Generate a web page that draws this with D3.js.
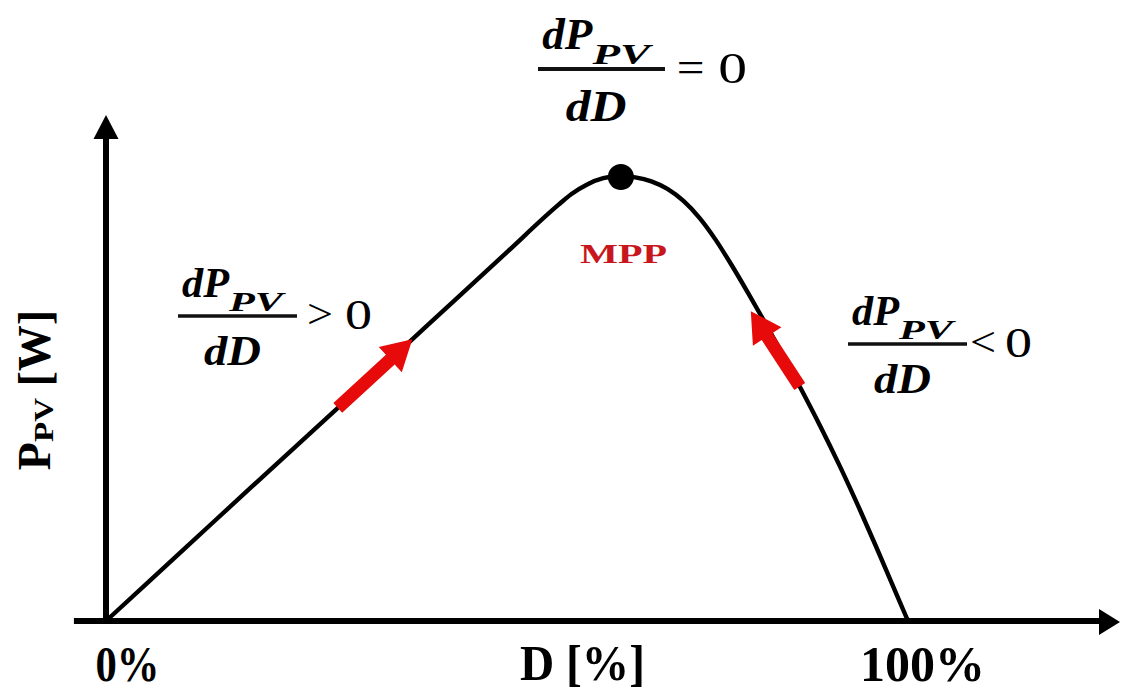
<!DOCTYPE html>
<html>
<head>
<meta charset="utf-8">
<script src="https://cdn.jsdelivr.net/npm/d3@7/dist/d3.min.js"></script>
<style>
  html, body { margin: 0; padding: 0; background: #fff; }
  svg { display: block; }
</style>
</head>
<body>
<svg id="chart" width="1122" height="692"></svg>
<script>
// Duty cycle D (%) and normalised PV power (% of maximum) along the P–D curve
const dutyPct = [0, 10, 20, 30, 40, 50, 56.4, 58, 60, 62, 64.2,
                 66, 68, 70, 72, 74, 76, 78, 80, 82, 84, 86.5, 89, 91.5, 94, 96, 98, 100];
const powerPct = [0, 16.6, 33.2, 49.7, 66.3, 82.9, 93.5, 95.9, 98.1, 99.5, 100,
                  99.7, 98.8, 97.1, 94.4, 90.6, 85.7, 80.0, 73.9, 67.6, 61.1, 52.7, 44.0, 34.8, 25.0, 16.8, 8.4, 0];

// Maximum power point
const mpp = { d: 64.2, p: 100, label: "MPP" };

// Direction-of-search arrows (tail -> tip) in data units
const searchArrows = [
  { from: [28.9, 47.9], to: [38.2, 63.3] },
  { from: [86.5, 52.7], to: [80.4, 69.6] }
];

// Axis ticks and titles
const xTicks = [0, 100];
const xTitle = "D [%]";
const yTitle = { main: "P", sub: "PV", unit: " [W]" };

const SERIF = '"Times New Roman", "Liberation Serif", "DejaVu Serif", serif';

const svg = d3.select("#chart");

const x = d3.scaleLinear().domain([0, 100]).range([106, 908]);
const y = d3.scaleLinear().domain([0, 100]).range([621, 176]);

// ---- axes with arrow heads ----
const axisG = svg.append("g");
const x0 = x(-4), x1 = 1120, yA = y(0);
axisG.append("line")
  .attr("x1", x0).attr("x2", x1 - 18).attr("y1", yA).attr("y2", yA)
  .attr("stroke", "#000").attr("stroke-width", 6);
axisG.append("path")
  .attr("d", `M${x1},${yA + 1} L${x1 - 21},${yA - 12} L${x1 - 21},${yA + 14} Z`)
  .attr("fill", "#000");

const yTop = 115, xA = x(0);
axisG.append("line")
  .attr("x1", xA).attr("x2", xA).attr("y1", yA + 2).attr("y2", yTop + 20)
  .attr("stroke", "#000").attr("stroke-width", 6);
axisG.append("path")
  .attr("d", `M${xA},${yTop} L${xA - 12.5},${yTop + 24} L${xA + 12.5},${yTop + 24} Z`)
  .attr("fill", "#000");

// tick labels via d3 axis
const xAxis = d3.axisBottom(x).tickValues(xTicks).tickFormat(d => d + "%").tickSize(0).tickPadding(0);
const xAxisG = svg.append("g").attr("transform", `translate(0,${yA})`).call(xAxis);
xAxisG.select(".domain").remove();
xAxisG.selectAll("text")
  .attr("dx", d => d === 0 ? 21 : 14).attr("dy", 60)
  .attr("textLength", d => d === 0 ? 64 : 125)
  .attr("lengthAdjust", "spacingAndGlyphs")
  .style("font-family", SERIF)
  .style("font-size", "50px").style("font-weight", "bold").attr("fill", "#000");

svg.append("text")
  .attr("x", 520).attr("y", 680)
  .attr("textLength", 125).attr("lengthAdjust", "spacingAndGlyphs")
  .style("font-family", SERIF)
  .style("font-size", "50px").style("font-weight", "bold")
  .text(xTitle);

// y title (rotated)
const yt = svg.append("text")
  .attr("transform", "translate(50,390) rotate(-90)")
  .attr("text-anchor", "middle")
  .style("font-family", SERIF)
  .style("font-size", "46px").style("font-weight", "bold");
yt.append("tspan").text(yTitle.main);
yt.append("tspan").attr("dy", 3).style("font-size", "27px").attr("textLength", 44).attr("lengthAdjust", "spacingAndGlyphs").text(yTitle.sub);
yt.append("tspan").attr("dy", -3).text(yTitle.unit);

// ---- P–D curve ----
const pts = dutyPct.map((d, i) => [d, powerPct[i]]);
const line = d3.line().x(d => x(d[0])).y(d => y(d[1])).curve(d3.curveMonotoneX);
svg.append("path")
  .datum(pts)
  .attr("d", line)
  .attr("fill", "none")
  .attr("stroke", "#000")
  .attr("stroke-width", 4.4)
  .attr("stroke-linejoin", "round");

// ---- red search-direction arrows ----
function arrowPath(a) {
  const tx = x(a.from[0]), ty = y(a.from[1]);
  const hx = x(a.to[0]), hy = y(a.to[1]);
  const dx = hx - tx, dy = hy - ty, len = Math.hypot(dx, dy);
  const ux = dx / len, uy = dy / len, nx = -uy, ny = ux;
  const headL = 30, headW = 17, shaftW = 6.5;
  const bx = hx - ux * headL, by = hy - uy * headL;
  const p = [
    [tx + nx * shaftW, ty + ny * shaftW],
    [bx + nx * shaftW, by + ny * shaftW],
    [bx + nx * headW, by + ny * headW],
    [hx, hy],
    [bx - nx * headW, by - ny * headW],
    [bx - nx * shaftW, by - ny * shaftW],
    [tx - nx * shaftW, ty - ny * shaftW]
  ];
  return "M" + p.map(q => q.join(",")).join("L") + "Z";
}
svg.selectAll("path.search")
  .data(searchArrows)
  .join("path")
  .attr("class", "search")
  .attr("d", arrowPath)
  .attr("fill", "#e60a0a");

// ---- MPP marker ----
svg.append("circle")
  .attr("cx", x(mpp.d)).attr("cy", y(mpp.p) + 1).attr("r", 13)
  .attr("fill", "#000");
svg.append("text")
  .attr("x", 580).attr("y", 263)
  .attr("textLength", 87).attr("lengthAdjust", "spacingAndGlyphs")
  .style("font-family", SERIF)
  .style("font-size", "27px").style("font-weight", "bold")
  .attr("fill", "#c8161d")
  .text(mpp.label);

// ---- derivative fractions ----
const fractions = [
  { x: 538, y: 69, k: 1.067, sign: "=", signX: 130, zeroX: 169 },
  { x: 178, y: 316, k: 1.0, sign: ">", signX: 129, zeroX: 167 },
  { x: 848, y: 344, k: 1.0, sign: "<", signX: 122, zeroX: 157 }
];

function drawFraction(f) {
  const g = svg.append("g")
    .attr("transform", `translate(${f.x},${f.y}) scale(${f.k})`)
    .style("font-family", SERIF);
  const it = sel => sel.style("font-style", "italic").style("font-weight", "bold");
  g.append("text").attr("x", 4).attr("y", -19).style("font-size", "42px")
    .attr("textLength", 47).attr("lengthAdjust", "spacingAndGlyphs").call(it).text("dP");
  g.append("text").attr("x", 51).attr("y", -5).style("font-size", "27px")
    .attr("textLength", 54).attr("lengthAdjust", "spacingAndGlyphs").call(it).text("PV");
  g.append("line").attr("x1", 0).attr("x2", 119).attr("y1", 0).attr("y2", 0)
    .attr("stroke", "#111").attr("stroke-width", 3.6);
  g.append("text").attr("x", 26).attr("y", 49).style("font-size", "42px")
    .attr("textLength", 57).attr("lengthAdjust", "spacingAndGlyphs").call(it).text("dD");
  g.append("text").attr("x", f.signX).attr("y", 12).style("font-size", "42px")
    .attr("textLength", 26).attr("lengthAdjust", "spacingAndGlyphs").text(f.sign);
  g.append("text").attr("x", f.zeroX).attr("y", 13).style("font-size", "42px")
    .attr("textLength", 27).attr("lengthAdjust", "spacingAndGlyphs").text("0");
}
fractions.forEach(drawFraction);
</script>
</body>
</html>
